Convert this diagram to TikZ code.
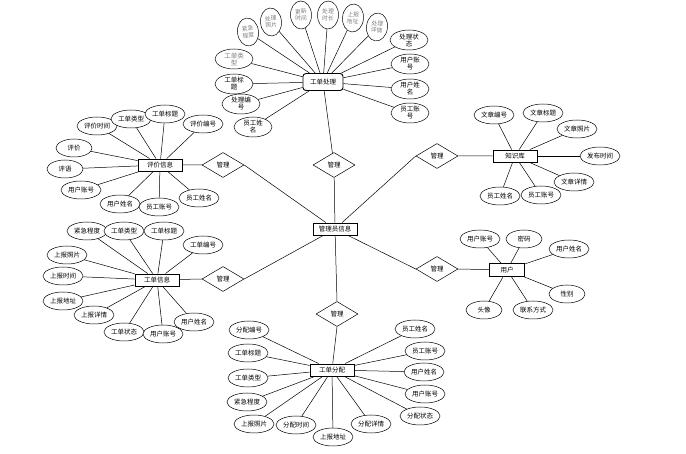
\documentclass[tikz,border=0pt]{standalone}
\usepackage{fontspec}
\setmainfont{Noto Sans CJK SC}
\usetikzlibrary{shapes.geometric}

\begin{document}
\begin{tikzpicture}[x=1pt,y=-1pt,line width=0.5pt,
    every node/.style={font=\fontsize{6.5}{7}\selectfont},
    entity/.style={draw,fill=white,line width=0.9pt,minimum width=44pt,minimum height=12pt,inner sep=1pt},
    attr/.style={draw,ellipse,fill=white,minimum width=40pt,minimum height=18pt,inner sep=0pt,align=center},
    small/.style={attr,minimum width=36pt},
    tall/.style={attr,minimum width=38pt,minimum height=20pt},
    grey/.style={attr,text=gray,minimum width=21pt,minimum height=28pt,font=\fontsize{5.8}{6.6}\selectfont},
    rel/.style={draw,diamond,fill=white,minimum width=42pt,minimum height=25pt,inner sep=0pt}]
    \useasboundingbox (0,0) rectangle (686,454);

    % entities and relations
    \node[entity] (gly) at (335,229) {管理员信息};
    \node[entity,rounded corners=3pt,minimum width=40pt,minimum height=17pt] (gdcl) at (323,82) {工单处理};
    \node[entity] (pj) at (160,165) {评价信息};
    \node[entity] (gdxx) at (157,280) {工单信息};
    \node[entity] (gdfp) at (332,370) {工单分配};
    \node[entity] (zsk) at (515,156) {知识库};
    \node[entity,minimum width=35pt,minimum height=13pt] (yh) at (507,270) {用户};
    \node[rel] (r1) at (334,165) {管理};
    \node[rel] (r2) at (223,165) {管理};
    \node[rel] (r3) at (223,279) {管理};
    \node[rel] (r4) at (337,314) {管理};
    \node[rel] (r5) at (437,156) {管理};
    \node[rel] (r6) at (437,269) {管理};

    \draw (gdcl) -- (r1) -- (gly);
    \draw (pj) -- (r2.west) (r2.east) -- (gly);
    \draw (gdxx) -- (r3.west) (r3.east) -- (gly);
    \draw (gly) -- (r4.north) (r4.south) -- (gdfp);
    \draw (gly) -- (r5.west) (r5.east) -- (zsk);
    \draw (gly) -- (r6.west) (r6.east) -- (yh);

    % 工单处理
    \foreach \x/\y/\r/\t [count=\i] in {248/32/7/紧急\\程度, 271/22/5/处理\\照片, 301/15/2/更新\\时间,
        328/15/-2/处理\\时长, 353/18/-5/上报\\地址, 377/27/-7/处理\\详情} {
        \node[grey,rotate=\r] (gdclg\i) at (\x,\y) {\t};
        \draw (gdclg\i) -- (gdcl);
    }
    \node[tall,text=gray] (gdcllx) at (234,59) {工单类\\型};
    \draw (gdcllx) -- (gdcl);
    \foreach \x/\y/\t [count=\i] in {234/84/工单标\\题, 241/104/处理编\\号, 253/127/员工姓\\名,
        409/40/处理状\\态, 410/64/用户账\\号, 410/89/用户姓\\名, 410/113/员工账\\号} {
        \node[tall] (gdcl\i) at (\x,\y) {\t};
        \draw (gdcl\i) -- (gdcl);
    }

    % 评价信息
    \foreach \x/\y/\t [count=\i] in {97/126/评价时间, 131/119/工单类型, 165/114/工单标题, 203/124/评价编号,
        81/190/用户账号, 120/204/用户姓名, 159/207/员工账号, 199/198/员工姓名} {
        \node[attr] (pj\i) at (\x,\y) {\t};
        \draw (pj\i) -- (pj);
    }
    \node[small] (pjpj) at (74,148) {评价};
    \node[small] (pjpy) at (65,169) {评语};
    \draw (pjpj) -- (pj) (pjpy) -- (pj);

    % 工单信息
    \foreach \x/\y/\t [count=\i] in {87/231/紧急程度, 124/231/工单类型, 164/231/工单标题, 203/245/工单编号,
        67/255/上报照片, 63/276/上报时间, 63/301/上报地址, 94/315/上报详情,
        124/332/工单状态, 163/334/用户账号, 194/322/用户姓名} {
        \node[attr] (gdxx\i) at (\x,\y) {\t};
        \draw (gdxx\i) -- (gdxx);
    }

    % 工单分配
    \foreach \x/\y/\t [count=\i] in {249/330/分配编号, 248/353/工单标题, 248/378/工单类型, 247/402/紧急程度,
        254/424/上报照片, 296/425/分配时间, 333/437/上报地址, 371/424/分配详情,
        415/329/员工姓名, 425/351/员工账号, 424/372/用户姓名, 425/394/用户账号, 420/416/分配状态} {
        \node[attr] (gdfp\i) at (\x,\y) {\t};
        \draw (gdfp\i) -- (gdfp);
    }

    % 知识库
    \foreach \x/\y/\t [count=\i] in {494/115/文章编号, 543/113/文章标题, 577/129/文章照片, 600/156/发布时间,
        574/182/文章详情, 541/195/员工账号, 500/196/员工姓名} {
        \node[attr] (zsk\i) at (\x,\y) {\t};
        \draw (zsk\i) -- (zsk);
    }

    % 用户
    \foreach \x/\y/\t [count=\i] in {480/239/用户账号, 569/249/用户姓名, 533/310/联系方式} {
        \node[attr] (yh\i) at (\x,\y) {\t};
        \draw (yh\i) -- (yh);
    }
    \foreach \x/\y/\t [count=\i] in {524/239/密码, 567/294/性别, 484/310/头像} {
        \node[small] (yhs\i) at (\x,\y) {\t};
        \draw (yhs\i) -- (yh);
    }
\end{tikzpicture}
\end{document}
